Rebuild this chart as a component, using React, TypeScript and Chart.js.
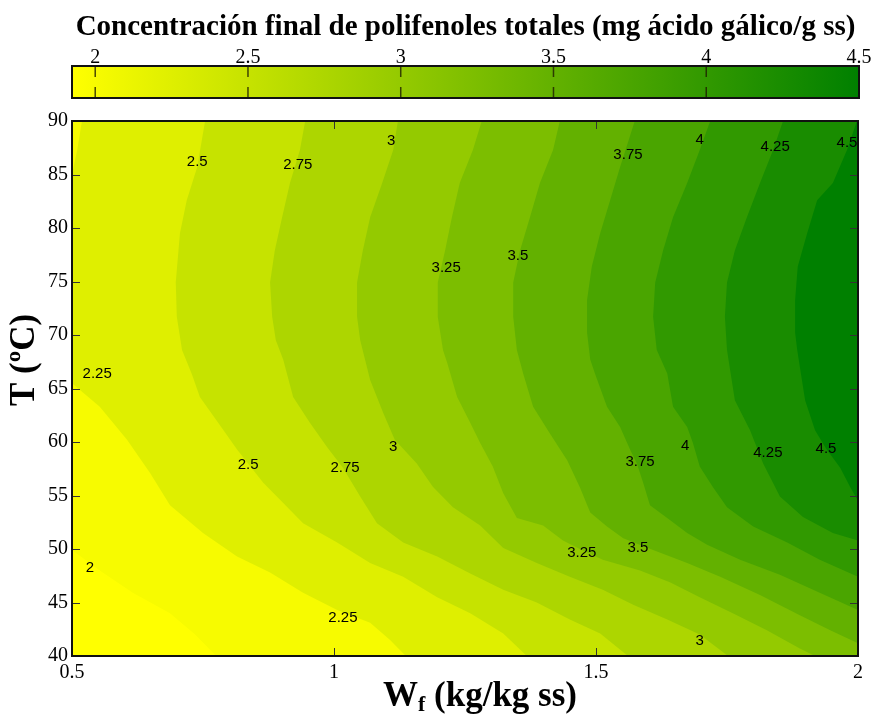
import React, { useEffect, useRef } from "react";
import { Chart, registerables } from "chart.js";

Chart.register(...registerables);

// ---------- axes ----------
const X_MIN = 0.5;
const X_MAX = 2;
const Y_MIN = 40;
const Y_MAX = 90;
const xTicks = [0.5, 1, 1.5, 2];
const yTicks = [40, 45, 50, 55, 60, 65, 70, 75, 80, 85, 90];

// ---------- colour bar ----------
const cbRange = [1.924, 4.5];
const cbTicks = [2, 2.5, 3, 3.5, 4, 4.5];
const cmapColors = [
  [255, 255, 0],
  [0, 128, 0],
];

// ---------- contour levels and their lines [W, T] ----------
const levels = [2, 2.25, 2.5, 2.75, 3, 3.25, 3.5, 3.75, 4, 4.25, 4.5];

const c200 = [[0.48, 50.5], [0.5, 49.9], [0.553, 48.0], [0.616, 45.9], [0.687, 44.0], [0.735, 42.0], [0.775, 40]];
const c225 = [[0.519, 90], [0.51, 87.3], [0.5, 85.0], [0.492, 82.6], [0.489, 75.1], [0.492, 67.7], [0.5, 65.5], [0.553, 63.3], [0.605, 60.2], [0.649, 57.1], [0.687, 54.1], [0.75, 51.5], [0.815, 49.3], [0.878, 47.8], [0.941, 45.9], [1.006, 44.3], [1.069, 43.1], [1.107, 41.5], [1.137, 40]];
const c250 = [[0.754, 90], [0.739, 85.7], [0.719, 82.6], [0.706, 79.5], [0.698, 74.9], [0.7, 71.7], [0.71, 68.6], [0.729, 66.3], [0.744, 64.2], [0.779, 61.8], [0.815, 59.3], [0.836, 58.0], [0.865, 56.2], [0.897, 54.6], [0.941, 52.4], [1.006, 50.6], [1.069, 48.7], [1.132, 47.4], [1.197, 45.5], [1.26, 44.0], [1.323, 42.1], [1.368, 40]];
const c275 = [[0.945, 90], [0.935, 87.3], [0.916, 84.2], [0.901, 81.0], [0.887, 77.9], [0.878, 74.9], [0.882, 71.7], [0.889, 69.5], [0.903, 67.7], [0.922, 64.2], [0.954, 61.8], [0.987, 59.5], [1.017, 57.6], [1.05, 54.9], [1.082, 52.4], [1.132, 50.6], [1.197, 49.3], [1.26, 47.7], [1.323, 46.2], [1.387, 45.0], [1.45, 43.4], [1.508, 42.1], [1.561, 40]];
const c300 = [[1.122, 90], [1.113, 87.3], [1.092, 84.2], [1.069, 81.0], [1.055, 77.9], [1.044, 74.9], [1.044, 71.7], [1.05, 69.5], [1.069, 65.8], [1.094, 62.7], [1.116, 60.2], [1.158, 58.0], [1.189, 55.8], [1.227, 53.9], [1.279, 52.2], [1.323, 50.1], [1.387, 48.7], [1.45, 47.4], [1.513, 46.2], [1.571, 44.8], [1.636, 43.4], [1.698, 42.0], [1.752, 40]];
const c325 = [[1.282, 90], [1.265, 87.3], [1.24, 84.2], [1.225, 81.0], [1.212, 77.9], [1.198, 74.9], [1.198, 71.7], [1.208, 68.6], [1.216, 67.4], [1.235, 64.2], [1.26, 61.8], [1.279, 59.9], [1.303, 57.7], [1.323, 55.2], [1.349, 52.9], [1.399, 52.2], [1.437, 50.8], [1.473, 49.9], [1.513, 49.0], [1.584, 48.0], [1.641, 46.9], [1.698, 45.5], [1.761, 44.0], [1.826, 42.4], [1.889, 40.7], [1.918, 40]];
const c350 = [[1.431, 90], [1.418, 87.3], [1.393, 84.2], [1.374, 81.0], [1.355, 77.9], [1.342, 74.9], [1.342, 71.7], [1.349, 68.6], [1.361, 66.4], [1.38, 63.3], [1.412, 60.8], [1.445, 58.3], [1.469, 55.8], [1.489, 53.4], [1.521, 52.1], [1.552, 51.0], [1.609, 49.9], [1.674, 48.7], [1.737, 47.4], [1.813, 45.7], [1.889, 43.8], [1.947, 42.4], [2.0, 41.2]];
const c375 = [[1.574, 90], [1.546, 85.7], [1.527, 82.6], [1.508, 79.5], [1.492, 76.4], [1.483, 73.3], [1.483, 70.2], [1.489, 67.7], [1.498, 66.4], [1.521, 63.3], [1.546, 61.4], [1.565, 59.3], [1.578, 58.0], [1.59, 56.2], [1.603, 54.1], [1.641, 52.7], [1.674, 51.5], [1.712, 50.4], [1.775, 49.0], [1.851, 47.6], [1.927, 45.9], [2.0, 44.3]];
const c400 = [[1.718, 90], [1.698, 87.3], [1.674, 84.2], [1.647, 81.0], [1.628, 77.9], [1.613, 74.9], [1.609, 71.7], [1.616, 68.6], [1.636, 66.4], [1.647, 63.3], [1.674, 61.4], [1.685, 59.9], [1.698, 57.7], [1.723, 55.8], [1.75, 53.9], [1.8, 52.1], [1.865, 50.6], [1.927, 49.0], [2.0, 47.4]];
const c425 = [[1.857, 90], [1.838, 87.3], [1.813, 84.2], [1.788, 81.0], [1.765, 77.9], [1.75, 74.9], [1.746, 71.7], [1.75, 68.6], [1.765, 63.9], [1.794, 61.1], [1.819, 58.0], [1.851, 54.9], [1.895, 53.0], [1.952, 51.5], [2.0, 50.8]];
const c450 = [[1.998, 90], [1.979, 87.3], [1.952, 84.2], [1.922, 82.6], [1.903, 79.5], [1.885, 76.4], [1.88, 73.3], [1.88, 70.2], [1.884, 68.6], [1.899, 63.9], [1.918, 61.1], [1.939, 59.4], [1.966, 57.6], [1.985, 55.8], [2.0, 54.5]];

const contourLines = [c200, c225, c250, c275, c300, c325, c350, c375, c400, c425, c450];

// ---------- contour labels ----------
const labelText = ["2.5", "2.75", "3", "3.75", "4", "4.25", "4.5", "3.25", "3.5", "2.25", "2.5", "2.75", "3", "3.75", "4", "4.25", "4.5", "3.25", "3.5", "2", "2.25", "3"];
const labelW = [0.739, 0.931, 1.109, 1.561, 1.698, 1.842, 1.979, 1.214, 1.351, 0.548, 0.836, 1.021, 1.113, 1.584, 1.67, 1.828, 1.939, 1.473, 1.58, 0.534, 1.017, 1.698];
const labelT = [86.2, 85.9, 88.1, 86.8, 88.2, 87.6, 88.0, 76.3, 77.4, 66.4, 57.9, 57.6, 59.5, 58.1, 59.6, 59.0, 59.4, 49.6, 50.1, 48.2, 43.6, 41.4];

// ---------- texts ----------
const titleText = "Concentración final de polifenoles totales (mg ácido gálico/g ss)";
const yTitle = "T (ºC)";
const xTitleMain = "W";
const xTitleSub = "f";
const xTitleRest = " (kg/kg ss)";

function cmap(v: number): string {
  let t = (v - cbRange[0]) / (cbRange[1] - cbRange[0]);
  t = Math.max(0, Math.min(1, t));
  const a = cmapColors[0];
  const b = cmapColors[1];
  const c = a.map((x, i) => Math.round(x + (b[i] - x) * t));
  return `rgb(${c[0]},${c[1]},${c[2]})`;
}

// closes a contour line into the region where values are above its level
function regionPolygon(line: number[][]) {
  const first = line[0];
  const last = line[line.length - 1];
  const pts: number[][] = [];
  const lx = X_MIN - 0.3, rx = X_MAX + 0.3, by = Y_MIN - 5, ty = Y_MAX + 5;
  if (first[1] >= Y_MAX) pts.push([first[0], ty]);
  else pts.push([lx, first[1]]);
  pts.push(...line);
  if (last[1] <= Y_MIN) pts.push([last[0], by], [rx, by]);
  else pts.push([rx, last[1]]);
  pts.push([rx, ty]);
  if (first[1] < Y_MAX) pts.push([lx, ty]);
  return pts.map(([x, y]) => ({ x, y }));
}

const SERIF = "'Liberation Serif', 'Times New Roman', serif";
const SANS = "'Liberation Sans', Arial, sans-serif";

export default function App() {
  const mainRef = useRef<HTMLCanvasElement>(null);
  const cbRef = useRef<HTMLCanvasElement>(null);

  useEffect(() => {
    const datasets = levels
      .map((lv, i) => ({
        label: String(lv),
        data: regionPolygon(contourLines[i]),
        backgroundColor: cmap(lv),
        borderWidth: 0,
        borderColor: "rgba(0,0,0,0)",
        pointRadius: 0,
        fill: "shape",
        tension: 0,
      }))
      .reverse();

    const bgPlugin = {
      id: "bg",
      beforeDraw(chart: any) {
        const { ctx, chartArea: a } = chart;
        ctx.save();
        ctx.fillStyle = cmap(cbRange[0]);
        ctx.fillRect(a.left, a.top, a.right - a.left, a.bottom - a.top);
        ctx.restore();
      },
    };

    const labelPlugin = {
      id: "contourLabels",
      afterDatasetsDraw(chart: any) {
        const { ctx } = chart;
        const xs = chart.scales.x;
        const ys = chart.scales.y;
        ctx.save();
        ctx.fillStyle = "#000";
        ctx.font = `15px ${SANS}`;
        ctx.textAlign = "center";
        ctx.textBaseline = "middle";
        labelText.forEach((t, i) => {
          ctx.fillText(t, xs.getPixelForValue(labelW[i]), ys.getPixelForValue(labelT[i]));
        });
        ctx.restore();
      },
    };

    const framePlugin = {
      id: "frame",
      afterDraw(chart: any) {
        const { ctx, chartArea: a } = chart;
        const xs = chart.scales.x;
        const ys = chart.scales.y;
        ctx.save();
        ctx.strokeStyle = "#333";
        ctx.lineWidth = 1;
        ctx.beginPath();
        xTicks.forEach((v) => {
          const px = Math.round(xs.getPixelForValue(v)) + 0.5;
          ctx.moveTo(px, a.bottom);
          ctx.lineTo(px, a.bottom - 8);
          ctx.moveTo(px, a.top);
          ctx.lineTo(px, a.top + 8);
        });
        yTicks.forEach((v) => {
          const py = Math.round(ys.getPixelForValue(v)) + 0.5;
          ctx.moveTo(a.left, py);
          ctx.lineTo(a.left + 8, py);
          ctx.moveTo(a.right, py);
          ctx.lineTo(a.right - 8, py);
        });
        ctx.stroke();
        ctx.strokeStyle = "#111";
        ctx.lineWidth = 2;
        ctx.strokeRect(a.left, a.top, a.right - a.left, a.bottom - a.top);

        // axis titles
        ctx.fillStyle = "#000";
        ctx.textBaseline = "alphabetic";
        const mainFont = `bold 35px ${SERIF}`;
        const subFont = `bold 22px ${SERIF}`;
        ctx.font = mainFont;
        const w1 = ctx.measureText(xTitleMain).width;
        const w3 = ctx.measureText(xTitleRest).width;
        ctx.font = subFont;
        const w2 = ctx.measureText(xTitleSub).width;
        const total = w1 + w2 + w3;
        const x0 = 480 - total / 2;
        const base = 706;
        ctx.textAlign = "left";
        ctx.font = mainFont;
        ctx.fillText(xTitleMain, x0, base);
        ctx.font = subFont;
        ctx.fillText(xTitleSub, x0 + w1, base + 5);
        ctx.font = mainFont;
        ctx.fillText(xTitleRest, x0 + w1 + w2, base);

        ctx.translate(25, 360);
        ctx.rotate(-Math.PI / 2);
        ctx.textAlign = "center";
        ctx.textBaseline = "middle";
        ctx.font = mainFont;
        ctx.fillText(yTitle, 0, 0);
        ctx.restore();
      },
    };

    const main = new Chart(mainRef.current as HTMLCanvasElement, {
      type: "line",
      data: { datasets: datasets as any },
      options: {
        animation: false,
        responsive: false,
        devicePixelRatio: 1,
        events: [],
        layout: { padding: { left: 0, right: 15, top: 121, bottom: 0 } },
        plugins: {
          legend: { display: false },
          tooltip: { enabled: false },
          title: { display: false },
          filler: { propagate: false },
        },
        scales: {
          x: {
            type: "linear",
            min: X_MIN,
            max: X_MAX,
            position: "bottom",
            afterFit: (s: any) => {
              s.height = 61;
            },
            afterBuildTicks: (s: any) => {
              s.ticks = xTicks.map((v) => ({ value: v }));
            },
            ticks: {
              callback: (v: any) => String(v),
              font: { family: SERIF, size: 20 },
              color: "#000",
              padding: 5,
              maxRotation: 0,
              autoSkip: false,
            },
            grid: { display: false, drawTicks: false },
            border: { display: false },
          },
          y: {
            type: "linear",
            min: Y_MIN,
            max: Y_MAX,
            afterFit: (s: any) => {
              s.width = 72;
            },
            afterBuildTicks: (s: any) => {
              s.ticks = yTicks.map((v) => ({ value: v }));
            },
            ticks: {
              callback: (v: any) => String(v),
              font: { family: SERIF, size: 20 },
              color: "#000",
              padding: 4,
              autoSkip: false,
            },
            grid: { display: false, drawTicks: false },
            border: { display: false },
          },
        },
      } as any,
      plugins: [bgPlugin, labelPlugin, framePlugin],
    });

    const cbPlugin = {
      id: "colorbar",
      beforeDatasetsDraw(chart: any) {
        const { ctx, chartArea: a } = chart;
        const xs = chart.scales.x;
        ctx.save();
        const g = ctx.createLinearGradient(xs.getPixelForValue(cbRange[0]), 0, xs.getPixelForValue(cbRange[1]), 0);
        g.addColorStop(0, cmap(cbRange[0]));
        g.addColorStop(1, cmap(cbRange[1]));
        ctx.fillStyle = g;
        ctx.fillRect(a.left, a.top, a.right - a.left, a.bottom - a.top);
        ctx.strokeStyle = "rgba(30,30,0,0.8)";
        ctx.lineWidth = 1.5;
        ctx.beginPath();
        cbTicks.forEach((v) => {
          const px = xs.getPixelForValue(v);
          ctx.moveTo(px, a.top);
          ctx.lineTo(px, a.top + 11);
          ctx.moveTo(px, a.bottom - 11);
          ctx.lineTo(px, a.bottom);
        });
        ctx.stroke();
        ctx.strokeStyle = "#111";
        ctx.lineWidth = 2;
        ctx.strokeRect(a.left, a.top, a.right - a.left, a.bottom - a.top);
        ctx.fillStyle = "#000";
        ctx.font = `bold 29px ${SERIF}`;
        ctx.textAlign = "center";
        ctx.textBaseline = "alphabetic";
        ctx.fillText(titleText, (a.left + a.right) / 2, 35);
        ctx.restore();
      },
    };

    const cb = new Chart(cbRef.current as HTMLCanvasElement, {
      type: "scatter",
      data: { datasets: [] },
      options: {
        animation: false,
        responsive: false,
        devicePixelRatio: 1,
        events: [],
        layout: { padding: { left: 72, right: 14, top: 0, bottom: 12 } },
        plugins: { legend: { display: false }, tooltip: { enabled: false } },
        scales: {
          x: {
            type: "linear",
            position: "top",
            min: cbRange[0],
            max: cbRange[1],
            afterFit: (s: any) => {
              s.height = 66;
            },
            afterBuildTicks: (s: any) => {
              s.ticks = cbTicks.map((v) => ({ value: v }));
            },
            ticks: {
              callback: (v: any) => String(v),
              font: { family: SERIF, size: 20 },
              color: "#000",
              padding: -4,
              maxRotation: 0,
              autoSkip: false,
            },
            grid: { display: false, drawTicks: false },
            border: { display: false },
          },
          y: { display: false, min: 0, max: 1 },
        },
      } as any,
      plugins: [cbPlugin],
    });

    return () => {
      main.destroy();
      cb.destroy();
    };
  }, []);

  return (
    <div style={{ position: "absolute", left: 0, top: 0, width: 873, height: 717, background: "#fff" }}>
      <canvas ref={mainRef} width={873} height={717} style={{ position: "absolute", left: 0, top: 0, display: "block" }} />
      <canvas ref={cbRef} width={873} height={110} style={{ position: "absolute", left: 0, top: 0, display: "block" }} />
    </div>
  );
}
